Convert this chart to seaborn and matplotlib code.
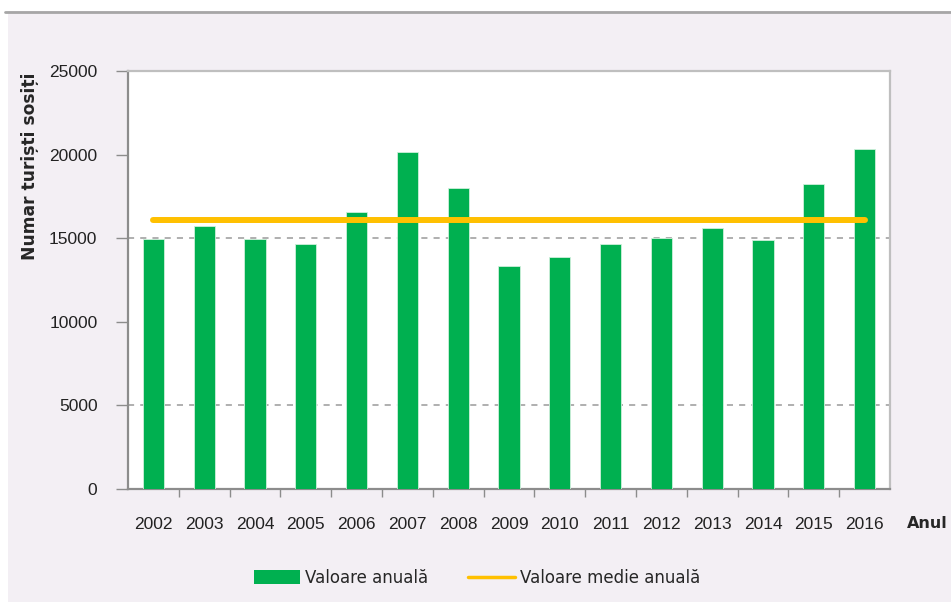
import numpy as np
import pandas as pd
import matplotlib
matplotlib.use('Agg')
import matplotlib.pyplot as plt
import seaborn as sns
from matplotlib.patches import Patch, Rectangle
from matplotlib.lines import Line2D

# date
ani = ['2002', '2003', '2004', '2005', '2006', '2007', '2008', '2009',
       '2010', '2011', '2012', '2013', '2014', '2015', '2016']
turisti = [14950, 15730, 14970, 14650, 16580, 20130, 18020, 13330,
           13890, 14670, 14990, 15630, 14870, 18220, 20310]
medie = [16060] * len(ani)
y_ticks = [0, 5000, 10000, 15000, 20000, 25000]

VERDE = '#00B050'
GALBEN = '#FFC000'
FUNDAL = '#F3EFF4'

sns.set_theme(style='white')
plt.rcParams['font.family'] = ['Liberation Sans Narrow', 'Liberation Sans', 'DejaVu Sans']

df = pd.DataFrame({'An': ani, 'Turisti': turisti, 'Medie': medie})

fig = plt.figure(figsize=(9.51, 6.02), dpi=100)
fig.patch.set_facecolor('white')
# zona graficului (fundal lavanda + linie sus)
fig.patches.append(Rectangle((8 / 951, 0), 1, 1 - 11 / 602, transform=fig.transFigure,
                             facecolor=FUNDAL, edgecolor='none', zorder=-10))
fig.lines.append(Line2D([5 / 951, 1], [1 - 12 / 602, 1 - 12 / 602], transform=fig.transFigure,
                        color='#A6A6A6', lw=2, zorder=-9))

ax = fig.add_axes([128 / 951, 113 / 602, 762 / 951, 418 / 602])
ax.set_zorder(2)
ax.set_facecolor('white')

sns.barplot(data=df, x='An', y='Turisti', color=VERDE, width=0.42,
            edgecolor='#CFEFDB', linewidth=0.6, saturation=1, ax=ax, zorder=3)
sns.lineplot(x=np.arange(len(ani)), y=df['Medie'], color=GALBEN, lw=4.3,
             solid_capstyle='round', ax=ax, zorder=4)

ax.set_xlim(-0.5, len(ani) - 0.5)
ax.set_ylim(0, 25000)
ax.set_yticks(y_ticks)
ax.set_yticklabels([str(v) for v in y_ticks], fontsize=12.5, color='#222222')
ax.set_xticks(np.arange(len(ani)))
ax.set_xticklabels(ani, fontsize=12.5, color='#222222')

# grila punctata doar la 5000 si 15000
for v in [5000, 15000]:
    ax.axhline(v, color='#9A9A9A', ls=(0, (4, 4)), lw=1.1, zorder=1)

ax.tick_params(axis='y', which='major', length=9, width=1, color='#8C8C8C', pad=13, left=True)
ax.tick_params(axis='x', which='major', length=0, pad=20)
ax.set_xticks(np.arange(len(ani) - 1) + 0.5, minor=True)
ax.tick_params(axis='x', which='minor', length=6, width=1, color='#8C8C8C', bottom=True)

for side in ['left', 'bottom']:
    ax.spines[side].set_color('#8C8C8C')
    ax.spines[side].set_linewidth(1.6)
for side in ['top', 'right']:
    ax.spines[side].set_visible(True)
    ax.spines[side].set_color('#BFBFBF')
    ax.spines[side].set_linewidth(1.6)

ax.set_xlabel('')
ax.set_ylabel('')
fig.text(30 / 951, 1 - 73 / 602, 'Numar turiști sosiți', rotation=90, ha='center', va='top',
         fontsize=12.3, fontweight='bold', family=['DejaVu Sans'])
fig.text(907 / 951, 1 - 523 / 602, 'Anul', ha='left', va='center',
         fontsize=11.5, fontweight='bold', family=['DejaVu Sans'])

handles = [Patch(facecolor=VERDE, edgecolor='none'),
           Line2D([0], [0], color=GALBEN, lw=2.5)]
fig.legend(handles, ['Valoare anuală', 'Valoare medie anuală'],
           loc='center', bbox_to_anchor=(477 / 951, 1 - 578 / 602), ncol=2,
           frameon=False, handlelength=2.8, handleheight=0.9,
           handletextpad=0.3, columnspacing=2.4,
           prop={'family': ['DejaVu Sans'], 'size': 12})

fig.savefig('out.png', dpi=100, facecolor=fig.get_facecolor())
